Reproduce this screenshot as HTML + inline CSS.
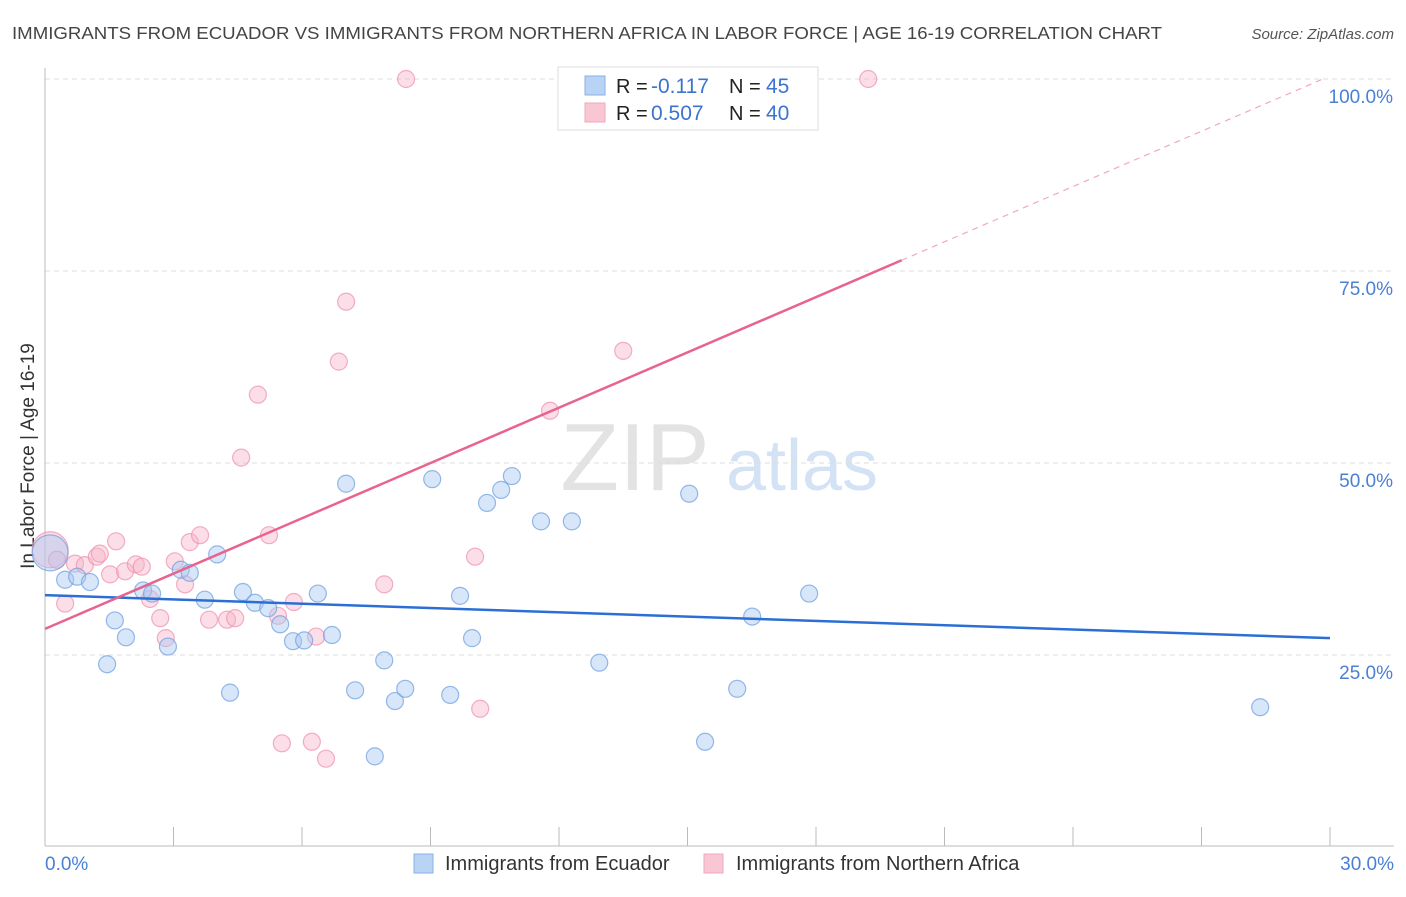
<!DOCTYPE html>
<html><head><meta charset="utf-8"><style>
body{margin:0;background:#fff;font-family:"Liberation Sans",sans-serif;}
svg text{font-family:"Liberation Sans",sans-serif;}
</style></head><body>
<svg id="chart" width="1406" height="892" xmlns="http://www.w3.org/2000/svg">
<text x="12" y="39" font-size="17.5" fill="#444" textLength="1150" lengthAdjust="spacingAndGlyphs">IMMIGRANTS FROM ECUADOR VS IMMIGRANTS FROM NORTHERN AFRICA IN LABOR FORCE | AGE 16-19 CORRELATION CHART</text>
<text x="1394" y="39" font-size="15" fill="#555" font-style="italic" text-anchor="end">Source: ZipAtlas.com</text>
<text transform="translate(34,456) rotate(-90)" font-size="19" fill="#333" text-anchor="middle">In Labor Force | Age 16-19</text>
<g>
<text x="635" y="490" font-size="96" fill="#ddd" font-family="Liberation Serif" text-anchor="middle" opacity="0.8">ZIP</text>
<text x="802" y="490" font-size="72" fill="#c9dcf2" text-anchor="middle" opacity="0.8">atlas</text>
</g>
<g id="grid"></g><g id="axes"></g><g id="pts"></g><g id="lines"></g>
<g>
<rect x="558" y="67" width="260" height="63" fill="#fff" stroke="#ddd"/>
<rect x="585" y="76" width="20" height="19" fill="#b9d3f5" stroke="#8ab0e6"/>
<rect x="585" y="103" width="20" height="19" fill="#f9c6d4" stroke="#f0a8bd"/>
<text x="616" y="93" font-size="20" fill="#222">R =</text>
<text x="651" y="93" font-size="21" fill="#3b73d1">-0.117</text>
<text x="729" y="93" font-size="20" fill="#222">N =</text>
<text x="766" y="93" font-size="21" fill="#3b73d1">45</text>
<text x="616" y="120" font-size="20" fill="#222">R =</text>
<text x="651" y="120" font-size="21" fill="#3b73d1">0.507</text>
<text x="729" y="120" font-size="20" fill="#222">N =</text>
<text x="766" y="120" font-size="21" fill="#3b73d1">40</text>
</g>
<g>
<rect x="414" y="854" width="19" height="19" fill="#b9d3f5" stroke="#8ab0e6"/>
<text x="445" y="870" font-size="20" fill="#333">Immigrants from Ecuador</text>
<rect x="704" y="854" width="19" height="19" fill="#f9c6d4" stroke="#f0a8bd"/>
<text x="736" y="870" font-size="20" fill="#333">Immigrants from Northern Africa</text>
</g>
</svg>
<script>
const xTicks=[0,3,6,9,12,15,18,21,24,27,30];
const yTicks=[25,50,75,100];
const blueX=[0.12,0.47,0.75,1.05,1.45,1.63,1.89,2.29,2.5,2.87,3.17,3.38,3.73,4.02,4.32,4.62,4.9,5.21,5.49,5.79,6.05,6.37,6.7,7.03,7.24,7.7,7.92,8.17,8.41,9.04,9.46,9.69,9.97,10.32,10.65,10.9,11.58,12.3,12.94,15.04,15.41,16.16,16.51,17.84,28.37];
const blueY=[38.3,34.8,35.2,34.5,23.8,29.5,27.3,33.4,33.0,26.1,36.1,35.7,32.2,38.1,20.1,33.2,31.8,31.1,29.0,26.8,26.9,33.0,27.6,47.3,20.4,11.8,24.3,19.0,20.6,47.9,19.8,32.7,27.2,44.8,46.5,48.3,42.4,42.4,24.0,46.0,13.7,20.6,30.0,33.0,18.2];
const pinkX=[0.12,0.28,0.47,0.7,0.93,1.21,1.28,1.52,1.66,1.87,2.12,2.26,2.45,2.69,2.82,3.03,3.27,3.38,3.62,3.83,4.25,4.44,4.58,4.97,5.23,5.44,5.53,5.81,6.23,6.33,6.56,6.86,7.03,7.92,8.43,10.04,10.16,11.79,13.5,19.22];
const pinkY=[38.7,37.4,31.7,36.9,36.7,37.8,38.2,35.5,39.8,35.9,36.8,36.5,32.3,29.8,27.2,37.2,34.2,39.7,40.6,29.6,29.6,29.8,50.7,58.9,40.6,30.1,13.5,31.9,13.7,27.4,11.5,63.2,71.0,34.2,100,37.8,18.0,56.8,64.6,100];
const blueLine=[32.8,27.2];
const pinkLine=[28.4,76.4];
const X=v=>45+v*42.833, Y=v=>847-v*7.68;
const NS="http://www.w3.org/2000/svg";
function mk(p,t,a){const e=document.createElementNS(NS,t);for(const k in a)e.setAttribute(k,a[k]);document.getElementById(p).appendChild(e);return e;}
yTicks.forEach(t=>{const g=mk('grid','line',{x1:45,x2:1394,y1:Y(t),y2:Y(t),stroke:'#ddd','stroke-dasharray':'5,4'});


const l=mk('axes','text',{x:1393,y:Y(t)+24,'font-size':19,fill:'#4a7fd4','text-anchor':'end'});l.textContent=t.toFixed(1)+'%';

});
const ax=mk('axes','line',{x1:45,x2:45,y1:68,y2:846,stroke:'#bbb'});


const bx=mk('axes','line',{x1:45,x2:1394,y1:846,y2:846,stroke:'#bbb'});


xTicks.forEach(t=>{const e=mk('axes','line',{x1:X(t),x2:X(t),y1:827,y2:846,stroke:'#bbb'});

});
[[0,'start',45],[30,'end',1394]].forEach(([t,a,x])=>{const l=mk('axes','text',{x:x,y:870,'font-size':19,fill:'#4a7fd4','text-anchor':a});l.textContent=t.toFixed(1)+'%';

});
function pts(xs,ys,f,s,n){xs.forEach((x,i)=>{const c=mk('pts','circle',{cx:X(x),cy:Y(ys[i]),r:i==0?18:8.5,fill:f,'fill-opacity':0.45,stroke:s,'stroke-opacity':0.7,'stroke-width':1.2});

});}
pts(pinkX,pinkY,'#f7b6c9','#ee8fab','point-northern-africa');
pts(blueX,blueY,'#a9c8f2','#6a9de0','point-ecuador');
const b=mk('lines','line',{x1:X(0),y1:Y(blueLine[0]),x2:X(30),y2:Y(blueLine[1]),stroke:'#2b6fd6','stroke-width':2.5});


const slope=(pinkLine[1]-pinkLine[0])/20;
const p=mk('lines','line',{x1:X(0),y1:Y(pinkLine[0]),x2:X(20),y2:Y(pinkLine[1]),stroke:'#e8648f','stroke-width':2.5});


const xe=(100-pinkLine[0])/slope;
const pd=mk('lines','line',{x1:X(20),y1:Y(pinkLine[1]),x2:X(xe),y2:Y(100),stroke:'#eeaac0','stroke-width':1.2,'stroke-dasharray':'6,5'});


</script>
</body></html>
